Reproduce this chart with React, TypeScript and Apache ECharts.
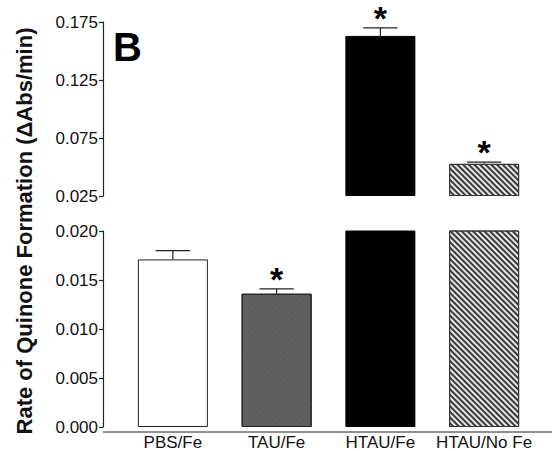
import React, { useEffect, useRef } from "react";
import * as echarts from "echarts";

const categories = ["PBS/Fe", "TAU/Fe", "HTAU/Fe", "HTAU/No Fe"];
const means = [0.0171, 0.0136, 0.163, 0.0527];
const errors = [0.0009, 0.0005, 0.007, 0.0015];
const significant = [false, true, true, true];

const lowerMin = 0;
const lowerMax = 0.02;
const lowerInterval = 0.005;
const upperMin = 0.025;
const upperMax = 0.175;
const upperInterval = 0.05;

const FONT = "'Liberation Sans', Arial, sans-serif";

const barStyles = [
  { color: "#ffffff", borderColor: "#222", borderWidth: 1 },
  {
    color: "#5a5a5a",
    borderColor: "#222",
    borderWidth: 1,
    decal: {
      symbol: "circle",
      symbolSize: 0.6,
      dashArrayX: [2, 1],
      dashArrayY: [2, 1],
      rotation: 0.5,
      color: "rgba(255,255,255,0.18)",
    },
  },
  { color: "#000000", borderColor: "#000", borderWidth: 1 },
  {
    color: "#e6e6e6",
    borderColor: "#333",
    borderWidth: 1,
    decal: {
      symbol: "rect",
      symbolSize: 1,
      dashArrayX: [[1, 0]],
      dashArrayY: [1.3, 1.9],
      rotation: Math.PI / 4,
      color: "#3a3a3a",
    },
  },
];

function errorRender(params: any, api: any) {
  const x = api.value(0);
  const top = api.coord([x, api.value(1)]);
  const end = api.coord([x, api.value(2)]);
  const bw = api.size([1, 0])[0];
  const half = bw * 0.165;
  const sig = api.value(3) === 1;
  const children: any[] = [
    {
      type: "line",
      shape: { x1: top[0], y1: top[1], x2: end[0], y2: end[1] },
      style: { stroke: "#222", lineWidth: 1.2 },
    },
    {
      type: "line",
      shape: { x1: end[0] - half, y1: end[1], x2: end[0] + half, y2: end[1] },
      style: { stroke: "#222", lineWidth: 1.2 },
    },
  ];
  if (sig) {
    children.push({
      type: "text",
      x: end[0],
      y: end[1] + 2,
      style: {
        text: "*",
        fontSize: 34,
        lineHeight: 24,
        fontWeight: "bold",
        fontFamily: FONT,
        fill: "#000",
        align: "center",
        verticalAlign: "bottom",
      },
    });
  }
  return { type: "group", children };
}

export default function App() {
  const ref = useRef<HTMLDivElement>(null);
  useEffect(() => {
    if (!ref.current) return;
    const chart = echarts.init(ref.current, null, { renderer: "svg" });

    const upperBars = means.map((m, i) =>
      m > upperMin ? { value: m - upperMin, itemStyle: barStyles[i] } : "-"
    );
    const lowerBars = means.map((m, i) => ({ value: m, itemStyle: barStyles[i] }));
    const upperErr: any[] = [];
    const lowerErr: any[] = [];
    means.forEach((m, i) => {
      if (m > upperMin) {
        upperErr.push([i, m - upperMin, m + errors[i] - upperMin, significant[i] ? 1 : 0]);
      } else {
        lowerErr.push([i, m, m + errors[i], significant[i] ? 1 : 0]);
      }
    });

    const yCommon = {
      type: "value" as const,
      position: "left" as const,
      offset: 18,
      splitLine: { show: false },
      axisLine: { show: true, lineStyle: { color: "#222", width: 1.2 } },
      axisTick: { show: true, inside: false, length: 4, lineStyle: { color: "#222", width: 1.2 } },
    };

    chart.setOption({
      animation: false,
      grid: [
        { left: 121, width: 415, top: 22, height: 174 },
        { left: 121, width: 415, top: 231, height: 201 },
      ],
      xAxis: [
        { type: "category", gridIndex: 0, data: categories, show: false },
        {
          type: "category",
          gridIndex: 1,
          data: categories,
          axisLine: { show: false },
          axisTick: { show: false },
          axisLabel: {
            color: "#111",
            fontSize: 17,
            fontFamily: FONT,
            margin: 7,
            interval: 0,
            hideOverlap: false,
          },
        },
      ],
      yAxis: [
        {
          ...yCommon,
          gridIndex: 0,
          min: 0,
          max: upperMax - upperMin,
          interval: upperInterval,
          axisLabel: {
            color: "#111",
            fontSize: 17,
            fontFamily: FONT,
            margin: 5,
            formatter: (v: number) => (v + upperMin).toFixed(3),
          },
        },
        {
          ...yCommon,
          gridIndex: 1,
          min: lowerMin,
          max: lowerMax,
          interval: lowerInterval,
          axisLabel: {
            color: "#111",
            fontSize: 17,
            fontFamily: FONT,
            margin: 5,
            formatter: (v: number) => v.toFixed(3),
          },
        },
      ],
      series: [
        {
          type: "bar",
          xAxisIndex: 0,
          yAxisIndex: 0,
          data: upperBars,
          barWidth: 70,
          clip: true,
        },
        {
          type: "bar",
          xAxisIndex: 1,
          yAxisIndex: 1,
          data: lowerBars,
          barWidth: 70,
          clip: true,
        },
        {
          type: "custom",
          xAxisIndex: 0,
          yAxisIndex: 0,
          data: upperErr,
          renderItem: errorRender,
          clip: false,
          z: 5,
        },
        {
          type: "custom",
          xAxisIndex: 1,
          yAxisIndex: 1,
          data: lowerErr,
          renderItem: errorRender,
          clip: false,
          z: 5,
        },
      ],
      graphic: [
        {
          type: "line",
          shape: { x1: 103, y1: 432, x2: 552, y2: 432 },
          style: { stroke: "#222", lineWidth: 1.2 },
        },
        {
          type: "text",
          x: 113,
          y: 47,
          style: {
            text: "B",
            fontSize: 40,
            fontWeight: "bold",
            fontFamily: FONT,
            fill: "#000",
            align: "left",
            verticalAlign: "middle",
          },
        },
        {
          type: "text",
          x: 24,
          y: 231,
          rotation: Math.PI / 2,
          style: {
            text: "Rate of Quinone Formation (\u0394Abs/min)",
            fontSize: 22,
            fontWeight: "bold",
            fontFamily: FONT,
            fill: "#111",
            align: "center",
            verticalAlign: "middle",
          },
        },
      ],
    });
    return () => chart.dispose();
  }, []);
  return (
    <div
      ref={ref}
      style={{ position: "fixed", left: 0, top: 0, width: 552, height: 451, background: "#fff" }}
    />
  );
}
